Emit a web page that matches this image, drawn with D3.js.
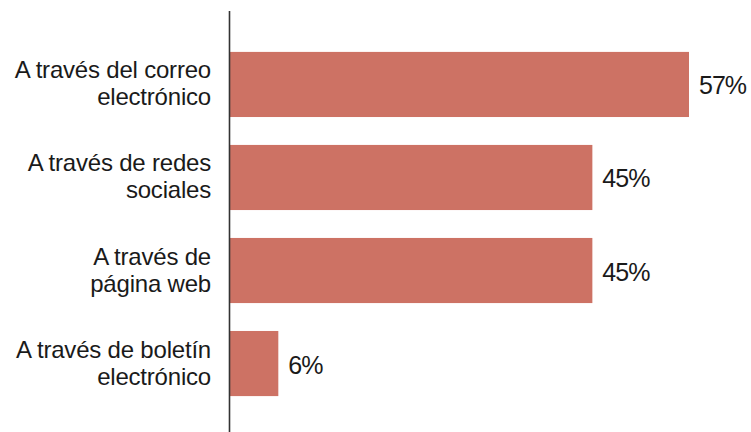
<!DOCTYPE html>
<html>
<head>
<meta charset="utf-8">
<script src="https://cdn.jsdelivr.net/npm/d3@7/dist/d3.min.js"></script>
<style>
  html, body { margin: 0; padding: 0; background: #ffffff; }
  svg { display: block; }
  text { font-family: "Liberation Sans", Arial, Helvetica, sans-serif; fill: #1a1a1a; }
</style>
</head>
<body>
<svg id="chart" width="751" height="432"></svg>
<script>
// Canales de comunicación (porcentaje)
const categories = [
  ["A través del correo", "electrónico"],
  ["A través de redes", "sociales"],
  ["A través de", "página web"],
  ["A través de boletín", "electrónico"]
];
const values = [57, 45, 45, 6];
const valueLabels = ["57%", "45%", "45%", "6%"];

const width = 751, height = 432;
const barColor = "#cd7264";

const svg = d3.select("#chart");

const x = d3.scaleLinear().domain([0, 57]).range([230, 689]);
const y = d3.scaleBand()
  .domain(d3.range(categories.length))
  .range([24, 424])
  .paddingInner(0.3)
  .paddingOuter(0.3);

// bars
svg.append("g").selectAll("rect")
  .data(values)
  .join("rect")
  .attr("x", x(0))
  .attr("y", (d, i) => y(i))
  .attr("width", d => x(d) - x(0))
  .attr("height", y.bandwidth())
  .attr("fill", barColor);

// vertical axis line
svg.append("line")
  .attr("x1", 229.5).attr("x2", 229.5)
  .attr("y1", 11).attr("y2", height)
  .attr("stroke", "#333")
  .attr("stroke-width", 1.6);

// category labels (two lines, right aligned)
const lab = svg.append("g").selectAll("text")
  .data(categories)
  .join("text")
  .attr("text-anchor", "end")
  .attr("font-size", 24)
  .attr("letter-spacing", -0.2)
  .attr("transform", (d, i) => `translate(211, ${y(i) + y.bandwidth() / 2})`);
lab.selectAll("tspan")
  .data(d => d)
  .join("tspan")
  .attr("x", 0)
  .attr("y", (d, j) => j === 0 ? -6 : 21)
  .text(d => d);

// value labels
svg.append("g").selectAll("text")
  .data(values)
  .join("text")
  .attr("x", d => x(d) + 10)
  .attr("y", (d, i) => y(i) + y.bandwidth() / 2 + 10)
  .attr("font-size", 25)
  .attr("letter-spacing", -1)
  .text((d, i) => valueLabels[i]);
</script>
</body>
</html>
